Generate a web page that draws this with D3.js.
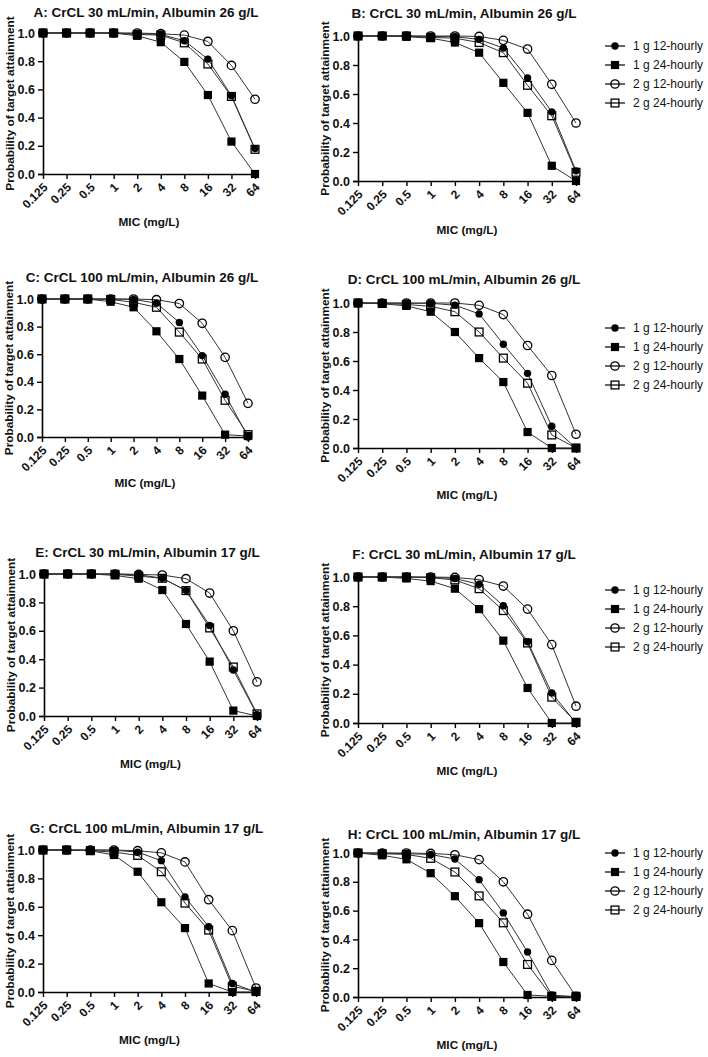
<!DOCTYPE html>
<html><head><meta charset="utf-8">
<script src="https://cdn.jsdelivr.net/npm/d3@7/dist/d3.min.js"></script>
<style>
body{margin:0;background:#fff;}
svg{display:block;font-family:"Liberation Sans",Arial,sans-serif;}
</style></head>
<body>
<svg id="chart" width="708" height="1057"></svg>
<script>
// ---- categories / ticks ----
const micLabels = ["0.125","0.25","0.5","1","2","4","8","16","32","64"];
const yTicks = [0,0.2,0.4,0.6,0.8,1.0];
const seriesNames = ["1 g 12-hourly","1 g 24-hourly","2 g 12-hourly","2 g 24-hourly"];
const panelTitles = [
  "A: CrCL 30 mL/min, Albumin 26 g/L",
  "B: CrCL 30 mL/min, Albumin 26 g/L",
  "C: CrCL 100 mL/min, Albumin 26 g/L",
  "D: CrCL 100 mL/min, Albumin 26 g/L",
  "E: CrCL 30 mL/min, Albumin 17 g/L",
  "F: CrCL 30 mL/min, Albumin 17 g/L",
  "G: CrCL 100 mL/min, Albumin 17 g/L",
  "H: CrCL 100 mL/min, Albumin 17 g/L"
];

// ---- data (probability of target attainment) ----
const A_1g12 = [1,1,1,1,0.995,0.99,0.945,0.815,0.555,0.18];
const A_1g24 = [1,1,1,1,0.98,0.935,0.795,0.56,0.23,0.0];
const A_2g12 = [1,1,1,1,1,0.995,0.985,0.94,0.77,0.53];
const A_2g24 = [1,1,1,1,0.99,0.985,0.93,0.78,0.55,0.175];

const B_1g12 = [1,1,1,0.997,0.995,0.977,0.917,0.71,0.477,0.07];
const B_1g24 = [1,1,0.995,0.985,0.955,0.885,0.677,0.47,0.105,0];
const B_2g12 = [1,1,1,1,1,0.997,0.97,0.91,0.667,0.40];
const B_2g24 = [1,1,1,0.99,0.985,0.955,0.885,0.66,0.45,0.06];

const C_1g12 = [1,1,1,1,0.997,0.97,0.83,0.59,0.31,0.0];
const C_1g24 = [1,1,1,0.98,0.94,0.766,0.565,0.30,0.017,0.007];
const C_2g12 = [1,1,1,1,1,0.995,0.967,0.824,0.577,0.244];
const C_2g24 = [1,1,1,0.997,0.976,0.94,0.76,0.565,0.266,0.017];

const D_1g12 = [1,1,0.998,0.998,0.985,0.925,0.716,0.515,0.15,0];
const D_1g24 = [1,0.995,0.98,0.94,0.80,0.62,0.455,0.11,0,0];
const D_2g12 = [1,1,1,1,1,0.984,0.92,0.707,0.5,0.095];
const D_2g24 = [1,0.997,0.99,0.977,0.94,0.80,0.62,0.447,0.09,0];

const E_1g12 = [1,1,1,1,0.995,0.97,0.885,0.638,0.324,0.01];
const E_1g24 = [1,1,1,0.99,0.967,0.887,0.648,0.383,0.038,0];
const E_2g12 = [1,1,1,1,0.997,0.993,0.967,0.866,0.60,0.24];
const E_2g24 = [1,1,1,0.998,0.985,0.97,0.883,0.62,0.345,0.015];

const F_1g12 = [1,1,1,0.998,0.99,0.95,0.803,0.557,0.206,0];
const F_1g24 = [1,1,0.99,0.972,0.92,0.78,0.564,0.24,0,0];
const F_2g12 = [1,1,1,1,0.997,0.982,0.938,0.78,0.537,0.115];
const F_2g24 = [1,1,1,0.995,0.98,0.92,0.77,0.548,0.177,0.005];

const G_1g12 = [1,1,1,0.998,0.985,0.925,0.67,0.46,0.06,0];
const G_1g24 = [1,1,0.995,0.965,0.847,0.632,0.45,0.06,0,0];
const G_2g12 = [1,1,1,1,0.995,0.98,0.916,0.65,0.432,0.028];
const G_2g24 = [1,1,0.995,0.985,0.962,0.847,0.626,0.436,0.04,0.005];

const H_1g12 = [1,1,0.995,0.99,0.958,0.815,0.584,0.312,0.014,0];
const H_1g24 = [1,0.984,0.956,0.86,0.70,0.513,0.243,0.014,0.005,0];
const H_2g12 = [1,1,1,0.997,0.988,0.954,0.80,0.575,0.254,0.005];
const H_2g24 = [1,0.995,0.99,0.963,0.868,0.702,0.515,0.226,0.005,0.005];

const panelData = [
  [A_1g12,A_1g24,A_2g12,A_2g24],
  [B_1g12,B_1g24,B_2g12,B_2g24],
  [C_1g12,C_1g24,C_2g12,C_2g24],
  [D_1g12,D_1g24,D_2g12,D_2g24],
  [E_1g12,E_1g24,E_2g12,E_2g24],
  [F_1g12,F_1g24,F_2g12,F_2g24],
  [G_1g12,G_1g24,G_2g12,G_2g24],
  [H_1g12,H_1g24,H_2g12,H_2g24]
];

// ---- layout (pixel geometry, separate from data) ----
const layout = [
  {x0:43, x1:255, top:33,  bottom:174, titleY:12,  micY:222},
  {x0:358,x1:576, top:36,  bottom:181, titleY:13,  micY:230},
  {x0:42, x1:248, top:299, bottom:437, titleY:277, micY:483},
  {x0:358,x1:576, top:303, bottom:448, titleY:279, micY:495},
  {x0:44, x1:257, top:574, bottom:716, titleY:552, micY:764},
  {x0:358,x1:576, top:577, bottom:723, titleY:554, micY:771},
  {x0:43, x1:256, top:850, bottom:992, titleY:828, micY:1040},
  {x0:358,x1:576, top:853, bottom:997, titleY:834, micY:1045}
];
const legendTops = [46, 328, 590, 853];

const svg = d3.select("#chart");
const lineColor = "#333";

function drawMarker(g, type, cx, cy){
  if(type===0){
    g.append("circle").attr("cx",cx).attr("cy",cy).attr("r",3.7).attr("fill","#000");
  } else if(type===1){
    g.append("rect").attr("x",cx-4.1).attr("y",cy-4.1).attr("width",8.2).attr("height",8.2).attr("fill","#000");
  } else if(type===2){
    g.append("circle").attr("cx",cx).attr("cy",cy).attr("r",4.2).attr("fill","none").attr("stroke","#000").attr("stroke-width",1.3);
  } else {
    g.append("rect").attr("x",cx-3.9).attr("y",cy-3.9).attr("width",7.8).attr("height",7.8).attr("fill","none").attr("stroke","#000").attr("stroke-width",1.3);
  }
}

panelData.forEach((series, pi) => {
  const L = layout[pi];
  const x = d3.scalePoint().domain(micLabels).range([L.x0, L.x1]).padding(0);
  const y = d3.scaleLinear().domain([0,1]).range([L.bottom, L.top]);
  const g = svg.append("g");

  // y axis
  const ya = g.append("g").attr("transform",`translate(${L.x0},0)`)
    .call(d3.axisLeft(y).tickValues(yTicks).tickFormat(d3.format(".1f")).tickSize(5).tickPadding(3));
  ya.select(".domain").attr("stroke","#000").attr("stroke-width",1.6);
  ya.selectAll(".tick line").attr("stroke","#000").attr("stroke-width",1.4);
  ya.selectAll(".tick text").attr("font-size",12.5).attr("font-weight","bold").attr("fill","#111");

  // x axis
  const xa = g.append("g").attr("transform",`translate(0,${L.bottom})`)
    .call(d3.axisBottom(x).tickSize(5).tickSizeOuter(0));
  xa.select(".domain").attr("stroke","#000").attr("stroke-width",1.6);
  xa.selectAll(".tick line").attr("stroke","#000").attr("stroke-width",1.4);
  xa.selectAll(".tick text").attr("font-size",12).attr("font-weight","bold").attr("fill","#111")
    .attr("text-anchor","end").attr("dy",null).attr("y",0)
    .attr("transform","translate(5,14) rotate(-45)");

  // lines + markers
  series.forEach((vals, si) => {
    const pts = vals.map((v,i)=>[x(micLabels[i]), y(v)]);
    g.append("path").attr("d", d3.line()(pts)).attr("fill","none")
      .attr("stroke",lineColor).attr("stroke-width",1);
  });
  series.forEach((vals, si) => {
    const mg = g.append("g");
    vals.forEach((v,i)=> drawMarker(mg, si, x(micLabels[i]), y(v)));
  });

  // title
  g.append("text").attr("x",(L.x0+L.x1)/2 - 3).attr("y",L.titleY).attr("dy","0.35em")
    .attr("text-anchor","middle").attr("font-size",13.5).attr("font-weight","bold").attr("fill","#111")
    .text(panelTitles[pi]);
  // x title
  g.append("text").attr("x",(L.x0+L.x1)/2).attr("y",L.micY).attr("dy","0.35em")
    .attr("text-anchor","middle").attr("font-size",11.8).attr("font-weight","bold").attr("fill","#111")
    .text("MIC (mg/L)");
  // y title
  g.append("text").attr("transform",`translate(${L.x0-33},${(L.top+L.bottom)/2}) rotate(-90)`)
    .attr("dy","0.35em").attr("text-anchor","middle").attr("font-size",11.8).attr("font-weight","bold").attr("fill","#111")
    .text("Probability of target attainment");
});

// legends
legendTops.forEach(ly => {
  const lg = svg.append("g");
  seriesNames.forEach((name, si) => {
    const yy = ly + si*19;
    lg.append("line").attr("x1",605).attr("x2",625).attr("y1",yy).attr("y2",yy)
      .attr("stroke","#000").attr("stroke-width",1.2);
    drawMarker(lg, si, 615, yy);
    lg.append("text").attr("x",633).attr("y",yy).attr("dy","0.35em")
      .attr("font-size",12).attr("fill","#111").text(name);
  });
});
</script>
</body></html>
